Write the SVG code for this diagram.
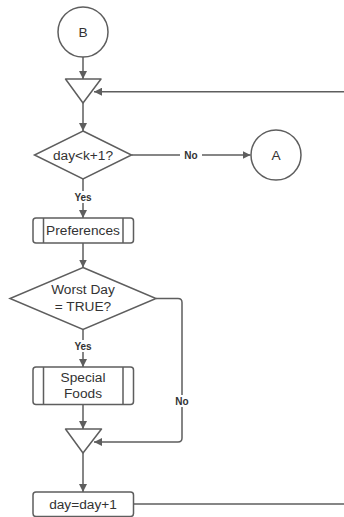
<svg xmlns="http://www.w3.org/2000/svg" width="344" height="517" viewBox="0 0 344 517">
<defs>
<marker id="ah" viewBox="0 0 10 10" refX="10" refY="5" markerWidth="8" markerHeight="8" markerUnits="userSpaceOnUse" orient="auto">
<path d="M0,0 L10,5 L0,10 Z" fill="#5e5e5e"/>
</marker>
<style>
.s{fill:#fff;stroke:#5e5e5e;stroke-width:1.5}
.c{fill:none;stroke:#5e5e5e;stroke-width:1.5}
.t{font-family:"Liberation Sans",Arial,sans-serif;font-size:13.7px;fill:#333;text-anchor:middle;dominant-baseline:central}
.l{font-family:"Liberation Sans",Arial,sans-serif;font-size:10px;font-weight:bold;fill:#333;text-anchor:middle;dominant-baseline:central}
</style>
</defs>
<rect width="344" height="517" fill="#fff"/>
<g id="connectors">
<path class="c" d="M83,57 V79" marker-end="url(#ah)"/>
<path class="c" d="M345,91.7 H94" marker-end="url(#ah)"/>
<path class="c" d="M83,103 V131" marker-end="url(#ah)"/>
<path class="c" d="M131.5,155 H250.5" marker-end="url(#ah)"/>
<path class="c" d="M83,179 V218" marker-end="url(#ah)"/>
<path class="c" d="M83,243 V267.5" marker-end="url(#ah)"/>
<path class="c" d="M156,298.5 H178 Q182,298.5 182,302.5 V438 Q182,442 178,442 H94" marker-end="url(#ah)"/>
<path class="c" d="M83,329.5 V367" marker-end="url(#ah)"/>
<path class="c" d="M83,404.5 V429" marker-end="url(#ah)"/>
<path class="c" d="M83,453 V492" marker-end="url(#ah)"/>
<path class="c" d="M133.5,504 H345"/>
<rect x="180" y="149" width="22" height="12" fill="#fff"/>
<text class="l" x="191" y="155">No</text>
<rect x="72" y="191" width="22" height="12" fill="#fff"/>
<text class="l" x="83" y="197">Yes</text>
<rect x="72" y="340" width="22" height="12" fill="#fff"/>
<text class="l" x="83" y="346">Yes</text>
<rect x="172" y="395" width="20" height="12" fill="#fff"/>
<text class="l" x="182" y="401">No</text>
</g>
<g id="nodeB">
<circle class="s" cx="83" cy="32" r="25"/>
<text class="t" x="83" y="32">B</text>
</g>
<g id="merge1">
<path class="s" d="M65.5,79 H101 L83,103 Z" stroke-linejoin="round"/>
</g>
<g id="decision1">
<path class="s" d="M83,131 L131.5,155 L83,179 L34.5,155 Z"/>
<text class="t" x="83" y="155">day&lt;k+1?</text>
</g>
<g id="nodeA">
<circle class="s" cx="276" cy="155" r="25"/>
<text class="t" x="276" y="155">A</text>
</g>
<g id="preferences">
<rect class="s" x="33" y="218" width="100.5" height="25" rx="3"/>
<path class="c" d="M43.5,218 V243 M123,218 V243"/>
<text class="t" x="83" y="230.5">Preferences</text>
</g>
<g id="decision2">
<path class="s" d="M83,267.5 L156,298.5 L83,329.5 L10,298.5 Z"/>
<text class="t" x="83" y="289.5">Worst Day</text>
<text class="t" x="83" y="306.5">= TRUE?</text>
</g>
<g id="specialFoods">
<rect class="s" x="33" y="367" width="100.5" height="37.5" rx="3"/>
<path class="c" d="M43.5,367 V404.5 M123,367 V404.5"/>
<text class="t" x="83" y="377.5">Special</text>
<text class="t" x="83" y="393.5">Foods</text>
</g>
<g id="merge2">
<path class="s" d="M65.5,429 H101.5 L83,453 Z" stroke-linejoin="round"/>
</g>
<g id="increment">
<rect class="s" x="33" y="492" width="100.5" height="24.5" rx="3"/>
<text class="t" x="83" y="504.5">day=day+1</text>
</g>
</svg>
